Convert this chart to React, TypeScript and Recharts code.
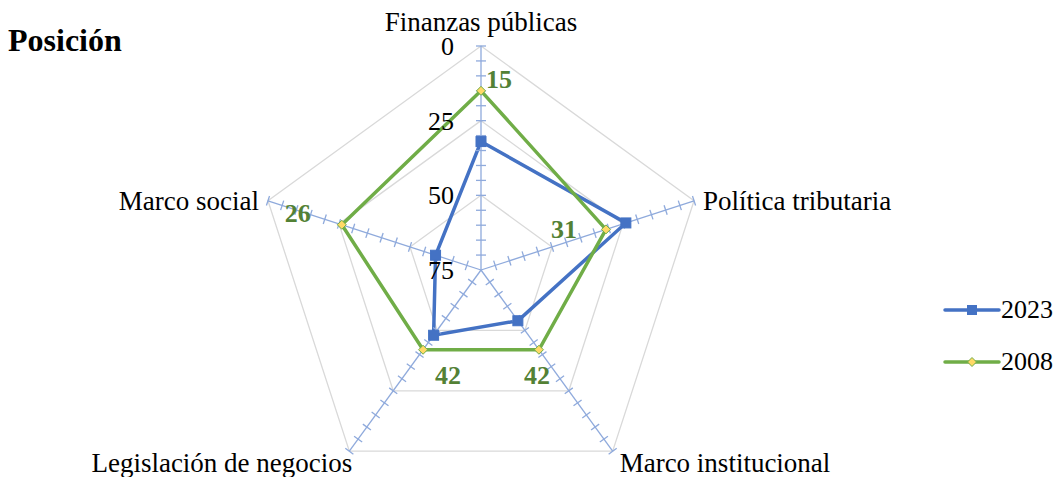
import { RadarChart, Radar, PolarGrid, PolarAngleAxis, PolarRadiusAxis, LabelList } from 'recharts'

const categories = ['Finanzas públicas', 'Política tributaria', 'Marco institucional', 'Legislación de negocios', 'Marco social']
const pos2023 = [32, 24, 54, 48, 59]
const pos2008 = [15, 31, 42, 42, 26]
const rankTicks = [0, 25, 50, 75]
const MAX = 75
const MINOR = 5

const W = 1060
const H = 477
const CX = 481
const CY = 270
const R = 224
const BLUE = '#4472C4'
const GREEN = '#70AD47'
const SPOKE = '#8FAADC'
const GRID = '#D9D9D9'
const LBL = '#538135'
const FONT = 'Liberation Serif, Tinos, DejaVu Serif, serif'

// posición 1 = mejor, así que el eje va invertido: 0 afuera, 75 en el centro
const data = categories.map((name, i) => ({
  name,
  r2023: MAX - pos2023[i],
  r2008: MAX - pos2008[i],
  v2008: pos2008[i],
}))

// desplazamiento de cada etiqueta verde respecto a su punto
const labelOffsets: [number, number][] = [
  [18, -12],
  [-42, 0],
  [-2, 25],
  [25, 25],
  [-44, -12],
]

function AngleTick(props: any) {
  const { payload, index } = props
  const cx = props.cx ?? CX
  const cy = props.cy ?? CY
  const a = (-payload.coordinate * Math.PI) / 180
  const cos = Math.cos(a)
  const sin = Math.sin(a)
  const vx = cx + R * cos
  const vy = cy + R * sin
  const marks = []
  for (let k = 1; k <= MAX / MINOR; k++) {
    const r = ((k * MINOR) / MAX) * R
    const px = cx + r * cos
    const py = cy + r * sin
    marks.push(
      <line key={k} x1={px + 5 * sin} y1={py - 5 * cos} x2={px - 5 * sin} y2={py + 5 * cos} stroke={SPOKE} strokeWidth={1.3} />
    )
  }
  let tx = vx
  let ty = vy
  let anchor: 'start' | 'middle' | 'end' = 'middle'
  if (Math.abs(cos) < 0.1) {
    ty = vy - 24
  } else if (sin > 0.5) {
    ty = vy + 11
    anchor = cos > 0 ? 'start' : 'end'
    tx = cos > 0 ? vx + 7 : vx + 3
  } else {
    anchor = cos > 0 ? 'start' : 'end'
    tx = cos > 0 ? vx + 9 : vx - 9
  }
  return (
    <g key={index}>
      <line x1={cx} y1={cy} x2={vx} y2={vy} stroke={SPOKE} strokeWidth={1.3} />
      {marks}
      <text x={tx} y={ty} dy="0.35em" textAnchor={anchor} style={{ fontFamily: FONT }} fontSize={27} fill="#000">
        {payload.value}
      </text>
    </g>
  )
}

function RadiusTick(props: any) {
  const { x, y, payload } = props
  return (
    <text x={x - 27} y={y} dy="0.35em" textAnchor="end" style={{ fontFamily: FONT }} fontSize={26} fill="#000">
      {MAX - payload.value}
    </text>
  )
}

function SquareDot(props: any) {
  const { cx, cy } = props
  return <rect x={cx - 5} y={cy - 5} width={10} height={10} fill={BLUE} stroke={BLUE} />
}

function DiamondDot(props: any) {
  const { cx, cy } = props
  return (
    <polygon
      points={`${cx},${cy - 4.5} ${cx + 4.5},${cy} ${cx},${cy + 4.5} ${cx - 4.5},${cy}`}
      fill="#FFD966"
      stroke={GREEN}
      strokeWidth={1}
    />
  )
}

function GreenLabel(props: any) {
  const { x, y, value, index } = props
  const [dx, dy] = labelOffsets[index] ?? [0, 0]
  return (
    <text
      x={x + dx}
      y={y + dy}
      dy="0.35em"
      textAnchor="middle"
      style={{ fontFamily: FONT }}
      fontSize={26}
      fontWeight="bold"
      fill={LBL}
    >
      {value}
    </text>
  )
}

function LegendItem({ color, label, dot }: { color: string; label: string; dot: 'square' | 'diamond' }) {
  return (
    <div style={{ display: 'flex', alignItems: 'center', height: 52 }}>
      <svg width={58} height={20}>
        <line x1={2} y1={10} x2={56} y2={10} stroke={color} strokeWidth={3.5} strokeLinecap="round" />
        {dot === 'square' ? (
          <rect x={24} y={5} width={10} height={10} fill={color} />
        ) : (
          <polygon points="29,5.5 33.5,10 29,14.5 24.5,10" fill="#FFD966" stroke={color} strokeWidth={1} />
        )}
      </svg>
      <span style={{ fontFamily: FONT, fontSize: 26, color: '#000' }}>{label}</span>
    </div>
  )
}

export default function App() {
  return (
    <div style={{ position: 'absolute', left: 0, top: 0, width: W, height: H, background: '#fff', fontFamily: FONT }}>
      <div style={{ position: 'absolute', left: 8, top: 22, fontFamily: FONT, fontSize: 32, fontWeight: 'bold', color: '#000' }}>
        Posición
      </div>
      <RadarChart
        width={W}
        height={H}
        data={data}
        cx={CX}
        cy={CY}
        outerRadius={R}
        margin={{ top: 0, right: 0, bottom: 0, left: 0 }}
        style={{ position: 'absolute', left: 0, top: 0 }}
      >
        <PolarGrid gridType="polygon" radialLines={false} stroke={GRID} strokeWidth={1.3} />
        <PolarAngleAxis dataKey="name" axisLine={false} tickLine={false} tick={AngleTick} />
        <PolarRadiusAxis
          type="number"
          domain={[0, MAX]}
          angle={90}
          ticks={rankTicks.map((t) => MAX - t)}
          axisLine={false}
          tick={RadiusTick}
        />
        <Radar
          dataKey="r2023"
          stroke={BLUE}
          strokeWidth={3.5}
          fill="none"
          fillOpacity={0}
          dot={SquareDot}
          isAnimationActive={false}
        />
        <Radar
          dataKey="r2008"
          stroke={GREEN}
          strokeWidth={3.5}
          fill="none"
          fillOpacity={0}
          dot={DiamondDot}
          isAnimationActive={false}
        >
          <LabelList dataKey="v2008" content={GreenLabel} />
        </Radar>
      </RadarChart>
      <div style={{ position: 'absolute', left: 943, top: 284 }}>
        <LegendItem color={BLUE} label="2023" dot="square" />
        <LegendItem color={GREEN} label="2008" dot="diamond" />
      </div>
    </div>
  )
}
